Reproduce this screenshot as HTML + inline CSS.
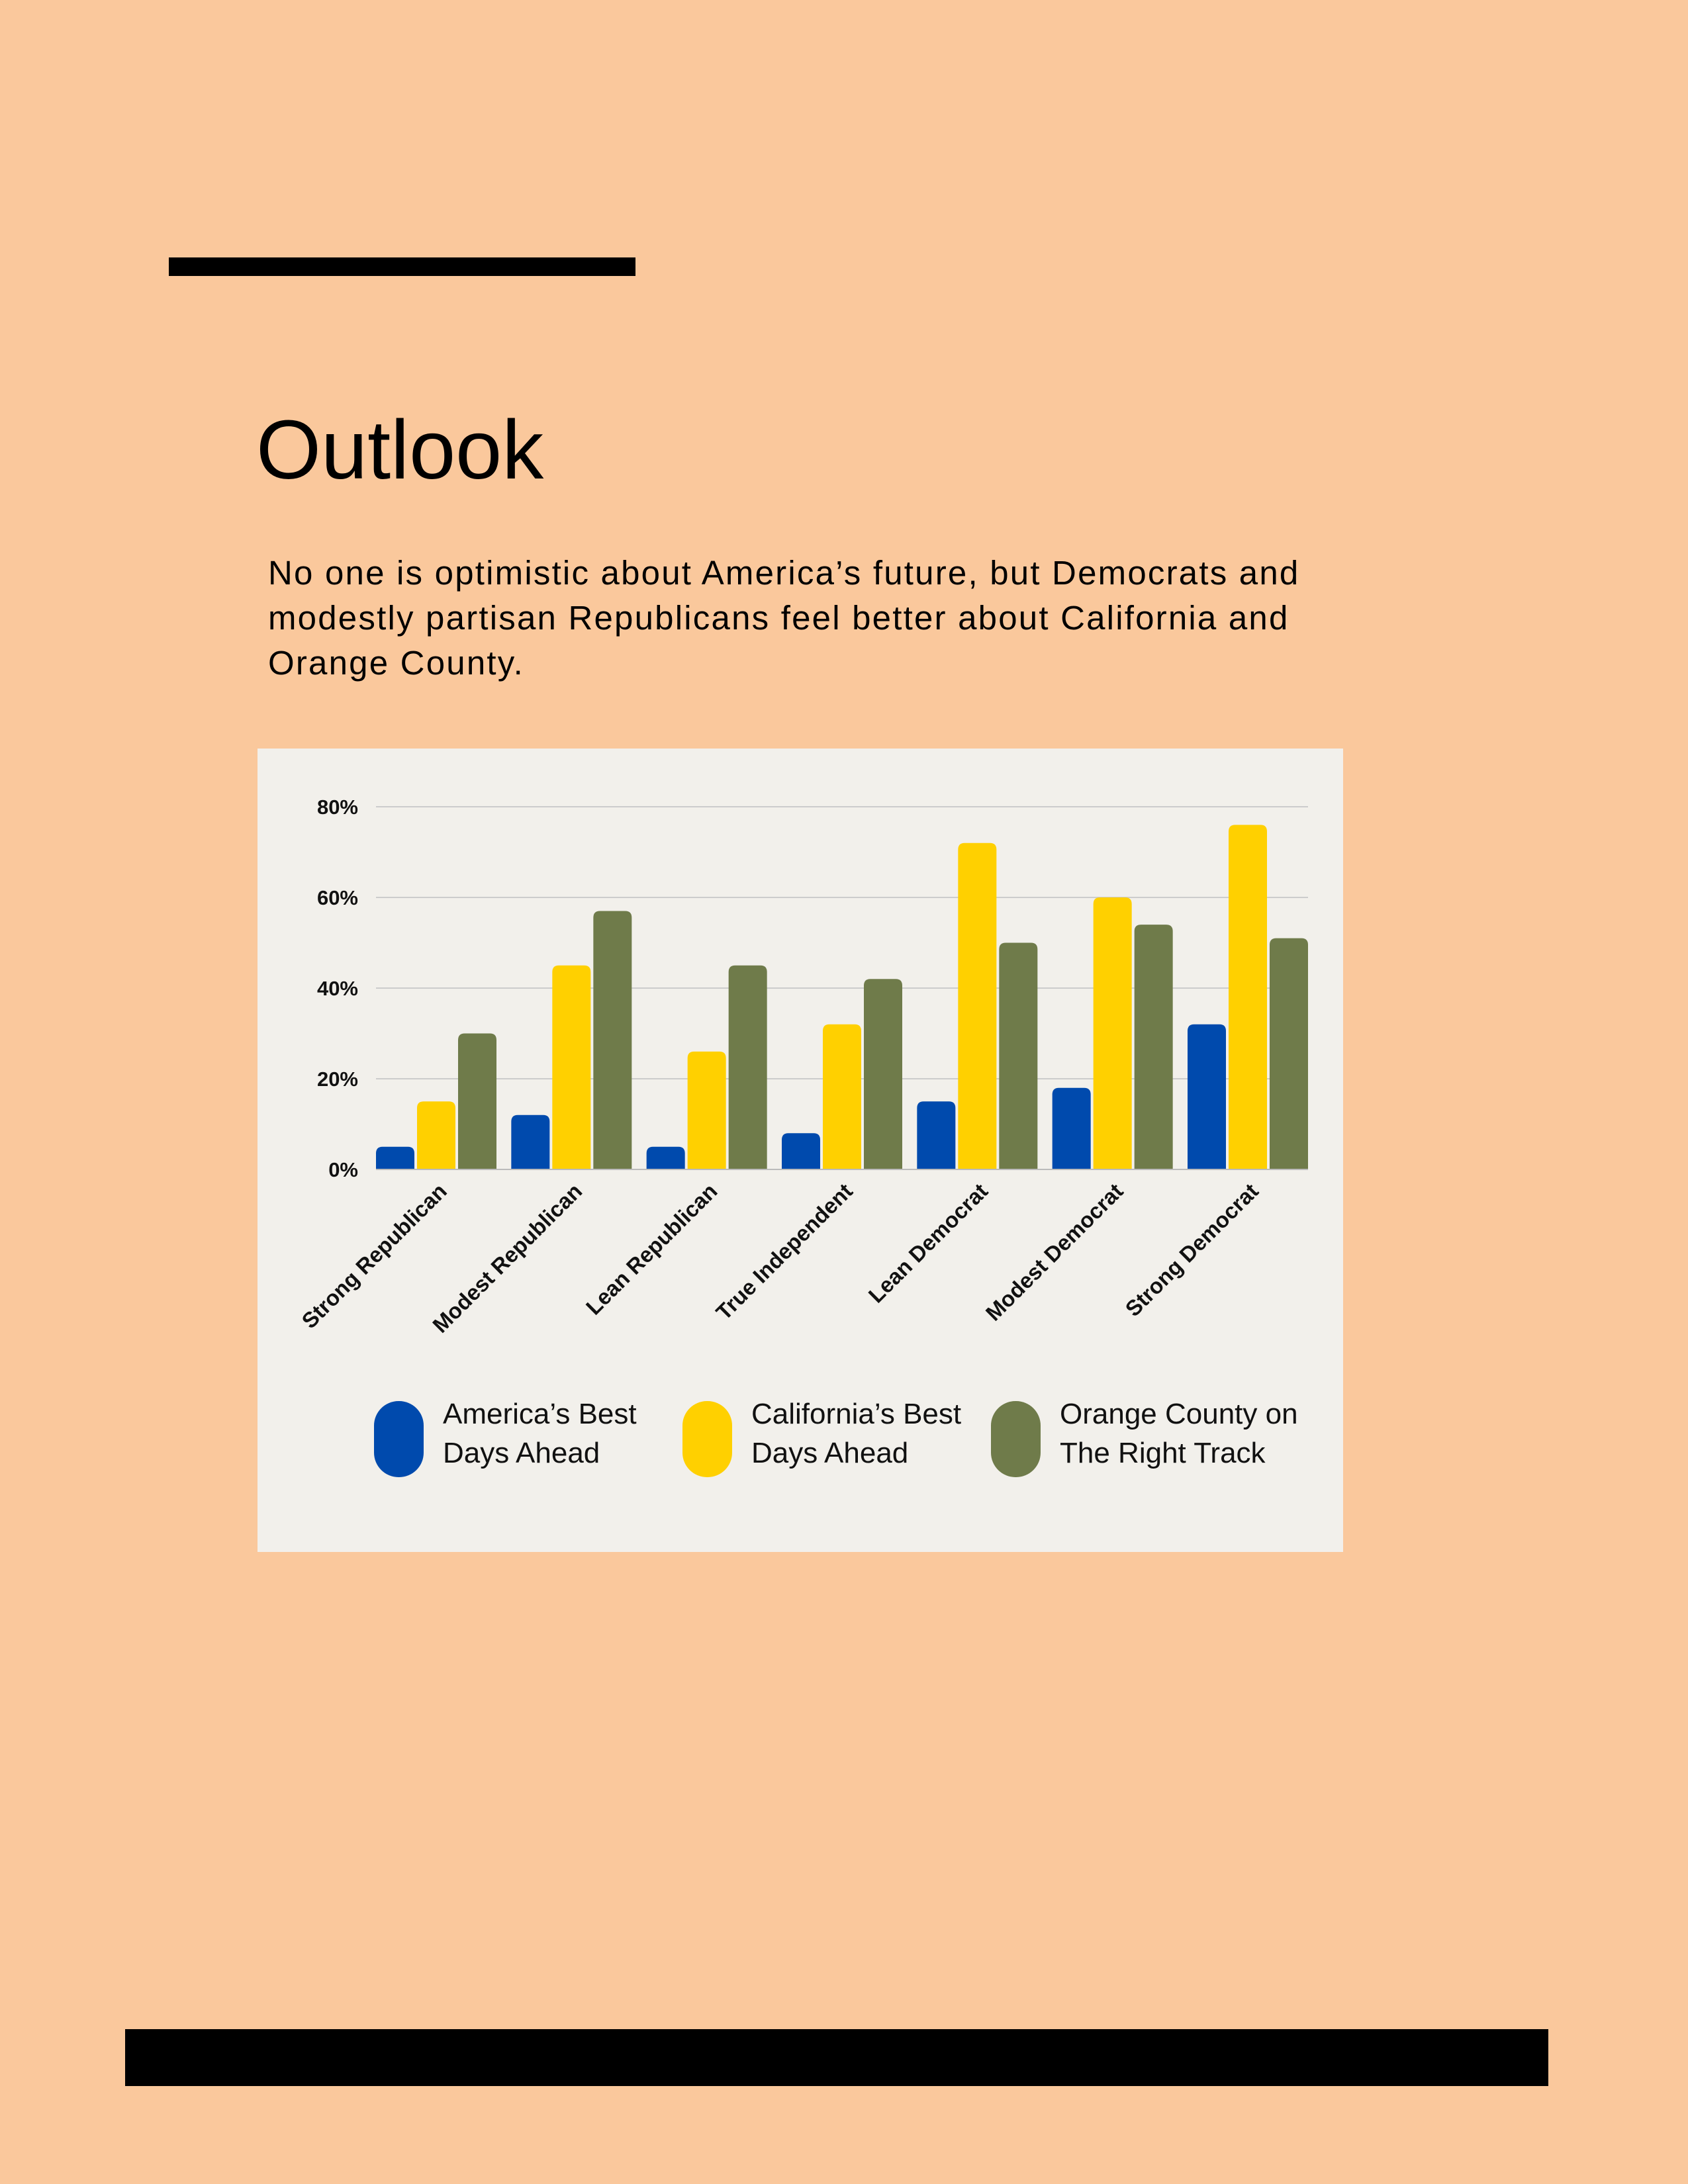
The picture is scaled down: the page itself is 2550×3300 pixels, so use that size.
<!DOCTYPE html>
<html><head><meta charset="utf-8"><style>
body{margin:0;width:2550px;height:3300px;background:#FAC89C;position:relative;overflow:hidden;font-family:"Liberation Sans",sans-serif;}
.abs{position:absolute;}
</style></head><body>
<div class="abs" style="left:255px;top:389px;width:705px;height:28px;background:#000"></div>
<div class="abs" style="left:387px;top:610px;font-size:126px;color:#000;line-height:140px">Outlook</div>
<div class="abs" style="left:405px;top:832px;width:2000px;font-size:51px;line-height:68px;color:#000;letter-spacing:2.2px;white-space:nowrap">No one is optimistic about America’s future, but Democrats and<br>modestly partisan Republicans feel better about California and<br>Orange County.</div>
<div class="abs" style="left:389px;top:1131px;width:1640px;height:1214px;background:#F2F0EB"></div>
<svg class="abs" style="left:0;top:0" width="2550" height="3300" id="chart"></svg>
<div class="abs" style="left:189px;top:3066px;width:2150px;height:86px;background:#000"></div>
<script>
const categories=["Strong Republican","Modest Republican","Lean Republican","True Independent","Lean Democrat","Modest Democrat","Strong Democrat"];
const americaVals=[5,12,5,8,15,18,32];
const californiaVals=[15,45,26,32,72,60,76];
const ocVals=[30,57,45,42,50,54,51];
const tickVals=[0,20,40,60,80];
const tickLabels=["0%","20%","40%","60%","80%"];
const seriesNames=[["America’s Best","Days Ahead"],["California’s Best","Days Ahead"],["Orange County on","The Right Track"]];
const colors=["#004AAD","#FFD000","#6F7B4A"];
const svg=document.getElementById('chart');
const NS="http://www.w3.org/2000/svg";
const x0=568,x1=1976,y0=1767,y80=1219;
const y=v=>y0-(v/80)*(y0-y80);
const bw=58, bg=4, gw=3*bw+2*bg, gap=(x1-x0-7*gw)/6, pitch=gw+gap;
function mk(t,a){const e=document.createElementNS(NS,t);for(const k in a)e.setAttribute(k,a[k]);svg.appendChild(e);return e;}
tickVals.forEach((v,i)=>{
 const l=mk('line',{x1:x0,x2:x1,y1:y(v),y2:y(v),stroke:'#cccccc','stroke-width':2});
 
 
 const t=mk('text',{x:541,y:y(v)+11,'text-anchor':'end','font-size':31,'font-weight':'bold',fill:'#111'});
 t.textContent=tickLabels[i];
 
 
});
const series=[americaVals,californiaVals,ocVals];
categories.forEach((c,i)=>{
 const gx=x0+i*pitch;
 series.forEach((vals,s)=>{
  const bx=gx+s*(bw+bg), top=y(vals[i]), h=y0-top;
  const r=Math.min(10,h/2);
  const p=mk('path',{d:`M${bx},${y0}V${top+r}Q${bx},${top} ${bx+r},${top}H${bx+bw-r}Q${bx+bw},${top} ${bx+bw},${top+r}V${y0}Z`,fill:colors[s]});
  
  
 });
 const cx=gx+gw/2+18;
 const t=mk('text',{x:cx,y:1802,'text-anchor':'end','font-size':33,'font-weight':'bold',fill:'#111',transform:`rotate(-45 ${cx} 1802)`});
 t.textContent=c;
 
 
});
const bl=mk('line',{x1:x0,x2:x1,y1:y0,y2:y0,stroke:'#bbbbbb','stroke-width':2});


const legX=[565,1031,1497];
seriesNames.forEach((n,s)=>{
 const r=mk('rect',{x:legX[s],y:2117,width:75,height:115,rx:37,fill:colors[s]});
 
 
 n.forEach((line,j)=>{
  const t=mk('text',{x:legX[s]+104,y:2151+j*59,'font-size':44,fill:'#111'});
  t.textContent=line;
  
  
 });
});
</script>
</body></html>
